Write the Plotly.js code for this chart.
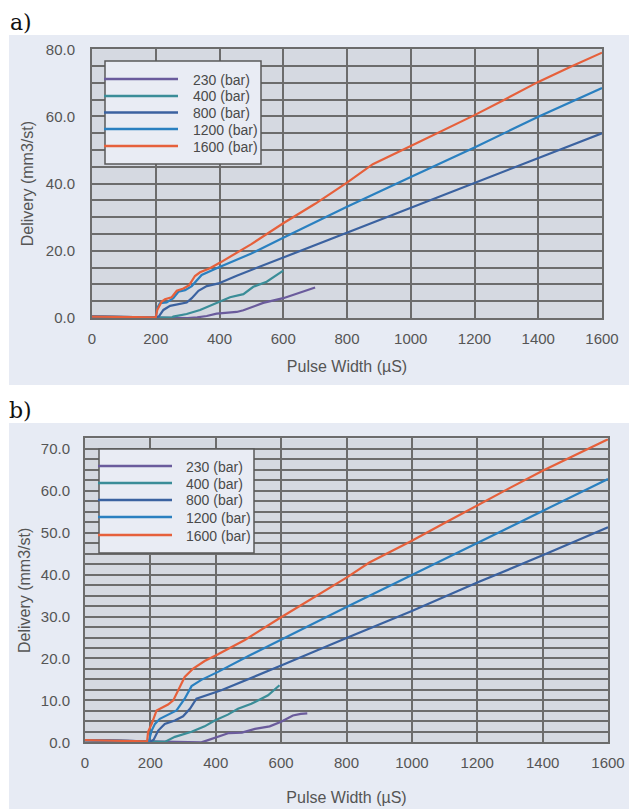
<!DOCTYPE html>
<html>
<head>
<meta charset="utf-8">
<script src="https://cdn.plot.ly/plotly-3.0.1.min.js"></script>
<style>html,body{margin:0;padding:0;background:#fff;}#chart{width:629px;height:809px;}</style>
</head>
<body>
<div id="chart"></div>
<script>
// ---------- data: panel a) ----------
const seriesNames = ["230 (bar)", "400 (bar)", "800 (bar)", "1200 (bar)", "1600 (bar)"];
const seriesColors = ["#6a5b9c", "#3a8d98", "#3b62a0", "#2a80c0", "#e6603b"];

const a_x230 = [0, 100, 200, 300, 330, 360, 391, 420, 454, 475, 496, 537, 600, 650, 700];
const a_y230 = [0.4, 0.3, 0.2, 0.0, 0.2, 0.6, 1.3, 1.6, 1.8, 2.3, 3.1, 4.5, 5.9, 7.5, 9.1];
const a_x400 = [0, 100, 200, 250, 255, 297, 339, 397, 433, 475, 506, 548, 600];
const a_y400 = [0.4, 0.3, 0.2, 0.1, 0.4, 1.2, 2.4, 4.6, 6.2, 7.1, 9.3, 10.8, 14.1];
const a_x800 = [0, 100, 200, 210, 224, 245, 271, 297, 313, 334, 360, 397, 454, 600, 700, 800, 1000, 1200, 1400, 1600];
const a_y800 = [0.4, 0.3, 0.2, 0.5, 2.4, 3.6, 4.2, 4.6, 5.9, 8.1, 9.5, 10.3, 12.6, 18.0, 21.8, 25.5, 32.9, 40.3, 47.5, 55.0];
const a_x1200 = [0, 100, 200, 205, 213, 234, 255, 271, 292, 313, 329, 344, 391, 500, 600, 700, 800, 1000, 1200, 1400, 1600];
const a_y1200 = [0.4, 0.3, 0.2, 3.0, 4.4, 4.6, 5.9, 7.8, 8.3, 9.5, 11.3, 12.8, 14.8, 19.2, 23.9, 28.5, 33.1, 42.0, 50.8, 59.9, 68.5];
const a_x1600 = [0, 100, 200, 205, 219, 229, 250, 266, 287, 305, 323, 339, 370, 402, 500, 600, 700, 800, 881, 1000, 1100, 1200, 1300, 1400, 1500, 1600];
const a_y1600 = [0.4, 0.3, 0.2, 2.5, 4.9, 5.6, 6.2, 8.1, 8.8, 9.8, 12.5, 13.6, 14.8, 16.5, 22.0, 28.2, 34.0, 40.3, 45.8, 51.2, 55.8, 60.4, 65.3, 70.3, 74.7, 79.0];

// ---------- data: panel b) ----------
const b_x230 = [0, 100, 200, 356, 372, 400, 440, 480, 520, 565, 600, 636, 660, 680];
const b_y230 = [0.5, 0.4, 0.2, 0.0, 0.4, 1.1, 2.2, 2.3, 3.2, 3.8, 4.9, 6.4, 6.8, 6.9];
const b_x400 = [0, 100, 200, 244, 275, 326, 366, 397, 437, 468, 509, 560, 595];
const b_y400 = [0.5, 0.4, 0.2, 0.1, 1.3, 2.5, 3.8, 5.2, 6.6, 8.0, 9.2, 11.2, 13.6];
const b_x800 = [0, 100, 200, 210, 224, 244, 275, 300, 321, 341, 372, 417, 600, 800, 1000, 1200, 1400, 1600];
const b_y800 = [0.5, 0.4, 0.2, 0.6, 2.8, 4.4, 5.2, 6.2, 8.0, 10.4, 11.2, 12.4, 18.3, 24.9, 31.3, 38.1, 44.6, 51.3];
const b_x1200 = [0, 100, 195, 204, 214, 229, 254, 280, 305, 326, 356, 407, 500, 600, 800, 1000, 1200, 1400, 1600];
const b_y1200 = [0.5, 0.4, 0.2, 2.8, 4.4, 5.6, 6.6, 7.6, 10.4, 13.4, 14.9, 16.8, 20.6, 24.5, 32.3, 39.9, 47.6, 55.2, 62.8];
const b_x1600 = [0, 100, 190, 193, 204, 219, 234, 254, 270, 285, 305, 331, 366, 407, 489, 595, 700, 800, 870, 1000, 1100, 1200, 1300, 1400, 1500, 1600];
const b_y1600 = [0.5, 0.4, 0.2, 2.5, 4.4, 7.6, 8.2, 9.0, 10.0, 12.4, 15.6, 17.6, 19.4, 21.0, 24.4, 29.6, 34.6, 39.3, 42.9, 48.1, 52.3, 56.6, 60.7, 64.8, 68.6, 72.3];

const xTickVals = [0, 200, 400, 600, 800, 1000, 1200, 1400, 1600];
const panelLabels = ["a)", "b)"];
const xTitle = "Pulse Width (µS)";
const yTitle = "Delivery (mm3/st)";

// ---------- build ----------
const aX = [a_x230, a_x400, a_x800, a_x1200, a_x1600];
const aY = [a_y230, a_y400, a_y800, a_y1200, a_y1600];
const bX = [b_x230, b_x400, b_x800, b_x1200, b_x1600];
const bY = [b_y230, b_y400, b_y800, b_y1200, b_y1600];

const traces = [];
for (let i = 0; i < 5; i++) {
  traces.push({x: aX[i], y: aY[i], xaxis: 'x', yaxis: 'y', type: 'scatter', mode: 'lines',
    name: seriesNames[i], showlegend: false, line: {color: seriesColors[i], width: 2.2}});
}
for (let i = 0; i < 5; i++) {
  traces.push({x: bX[i], y: bY[i], xaxis: 'x2', yaxis: 'y2', type: 'scatter', mode: 'lines',
    name: seriesNames[i], showlegend: false, line: {color: seriesColors[i], width: 2.2}});
}

const W = 629, H = 809;
const px = v => v / W, py = v => 1 - v / H;
const FONT = 'Liberation Sans, Arial, sans-serif';
const gridC = '#6c6c6c';
const txtC = '#555555';
const GW = 2;

function xAxis(domain, anchor, tstand) {
  return {domain: domain, anchor: anchor, range: [0, 1600], tickvals: xTickVals,
    showgrid: true, gridcolor: gridC, gridwidth: GW, zeroline: false,
    showline: true, linecolor: gridC, linewidth: GW, mirror: true, ticks: '',
    ticklabelstandoff: 6,
    tickfont: {family: FONT, size: 15, color: txtC},
    title: {text: xTitle, font: {family: FONT, size: 16, color: txtC}, standoff: tstand}};
}
function yAxis(domain, anchor, top, dtick, minor, standoff, tstand) {
  return {domain: domain, anchor: anchor, range: [0, top], dtick: dtick, tick0: 0,
    tickformat: '.1f', showgrid: true, gridcolor: gridC, gridwidth: GW, zeroline: false,
    showline: true, linecolor: gridC, linewidth: GW, mirror: true, ticks: '',
    ticklabelstandoff: tstand,
    minor: {dtick: minor, showgrid: true, gridcolor: gridC, gridwidth: GW},
    tickfont: {family: FONT, size: 15, color: txtC},
    title: {text: yTitle, font: {family: FONT, size: 16, color: txtC}, standoff: standoff}};
}

// legend boxes (layout positions in pixels)
const legendBoxes = [
  {x0: 105, x1: 261, y0: 61, y1: 164, lx0: 104, lx1: 178, tx: 191, rows: [79, 96, 112.5, 129, 146]},
  {x0: 99, x1: 254, y0: 449, y1: 553, lx0: 98, lx1: 172, tx: 184, rows: [466, 483, 500, 517, 535]}
];
const shapes = [
  {type: 'rect', xref: 'paper', yref: 'paper', x0: px(9), x1: 1, y0: py(385), y1: py(35),
    fillcolor: '#e7ebf4', line: {width: 0}, layer: 'below'},
  {type: 'rect', xref: 'paper', yref: 'paper', x0: px(9), x1: 1, y0: 0, y1: py(423),
    fillcolor: '#e7ebf4', line: {width: 0}, layer: 'below'},
  {type: 'rect', xref: 'paper', yref: 'paper', x0: px(92), x1: px(602), y0: py(318), y1: py(49.3),
    fillcolor: '#d5d9e1', line: {width: 0}, layer: 'below'},
  {type: 'rect', xref: 'paper', yref: 'paper', x0: px(85), x1: px(608), y0: py(742.3), y1: py(438.4),
    fillcolor: '#d5d9e1', line: {width: 0}, layer: 'below'}
];
const annotations = [
  {text: panelLabels[0], xref: 'paper', yref: 'paper', x: px(8), y: py(23), xanchor: 'left', yanchor: 'middle',
    showarrow: false, font: {family: 'DejaVu Serif, serif', size: 22, color: '#111'}},
  {text: panelLabels[1], xref: 'paper', yref: 'paper', x: px(7), y: py(410), xanchor: 'left', yanchor: 'middle',
    showarrow: false, font: {family: 'DejaVu Serif, serif', size: 22, color: '#111'}}
];
legendBoxes.forEach(b => {
  shapes.push({type: 'rect', xref: 'paper', yref: 'paper', x0: px(b.x0), x1: px(b.x1), y0: py(b.y1), y1: py(b.y0),
    fillcolor: '#e9ecf4', line: {color: '#5a5a5a', width: 1.5}, layer: 'above'});
  seriesNames.forEach((nm, i) => {
    shapes.push({type: 'line', xref: 'paper', yref: 'paper', x0: px(b.lx0), x1: px(b.lx1), y0: py(b.rows[i]), y1: py(b.rows[i]),
      line: {color: seriesColors[i], width: 2.6}, layer: 'above'});
    annotations.push({text: nm, xref: 'paper', yref: 'paper', x: px(b.tx), y: py(b.rows[i] + 0.5), xanchor: 'left', yanchor: 'middle',
      align: 'left', showarrow: false, font: {family: FONT, size: 14, color: '#4a4a4a'}});
  });
});

const layout = {
  width: W, height: H, margin: {l: 0, r: 0, t: 0, b: 0},
  paper_bgcolor: '#ffffff', plot_bgcolor: 'rgba(0,0,0,0)', showlegend: false,
  xaxis: xAxis([px(92), px(602)], 'y', 15),
  yaxis: yAxis([py(318), py(49.3)], 'x', 80, 20, 5, 8, 12),
  xaxis2: xAxis([px(85), px(608)], 'y2', 22),
  yaxis2: yAxis([py(742.3), py(438.4)], 'x2', 72.5, 10, 2.5, 6, 10),
  shapes: shapes,
  annotations: annotations
};

Plotly.newPlot('chart', traces, layout, {staticPlot: true, displayModeBar: false});
</script>
</body>
</html>
